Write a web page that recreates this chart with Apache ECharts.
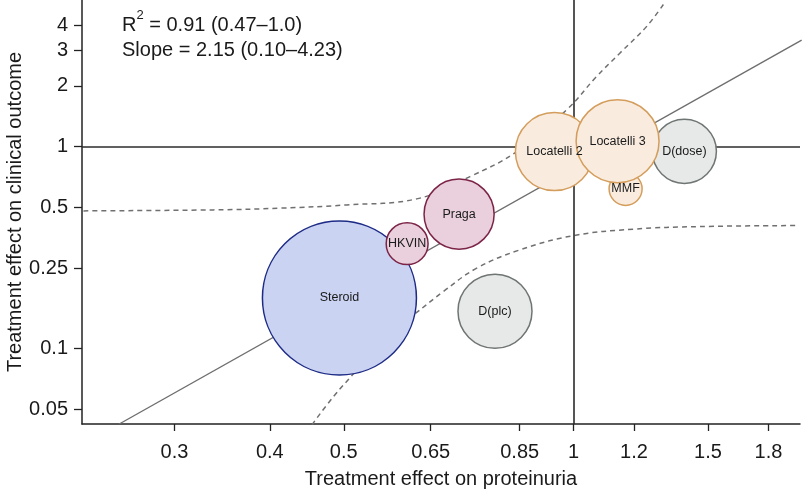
<!DOCTYPE html>
<html><head><meta charset="utf-8">
<script src="https://cdn.jsdelivr.net/npm/echarts@6/dist/echarts.min.js"></script>
<style>html,body{margin:0;padding:0;background:#fff}#c{width:802px;height:490px}</style>
</head><body><div id="c"></div>
<script>
// ---- data ----
const studies = ['Steroid', 'D(plc)', 'HKVIN', 'Praga', 'Locatelli 2', 'MMF', 'D(dose)', 'Locatelli 3'];
const effProteinuria = [0.4935, 0.789, 0.6053, 0.708, 0.944, 1.170, 1.397, 1.142];
const effClinical = [0.178, 0.153, 0.3306, 0.463, 0.945, 0.6175, 0.947, 1.0635];
const weights = [100, 23.1, 7.4, 20.7, 25.7, 4.6, 17.3, 29.0];
const groups = ['steroid', 'dapa', 'immuno', 'immuno', 'mmf', 'mmf', 'dapa', 'mmf'];

const fitX = [0.254, 1.99];
const fitY = [0.0423, 3.37];
const upperBandX = [0.228, 0.3374, 0.4129, 0.5047, 0.6232, 0.7318, 0.8423, 0.979, 1.0717, 1.1497, 1.246, 1.3165];
const upperBandY = [0.4805, 0.486, 0.4956, 0.5145, 0.551, 0.7104, 0.9446, 1.519, 2.221, 2.9, 3.927, 5.163];
const lowerBandX = [0.4542, 0.4848, 0.5202, 0.5636, 0.6169, 0.6752, 0.7466, 0.8507, 1.0, 1.1966, 1.463, 1.9575];
const lowerBandY = [0.0419, 0.0579, 0.0785, 0.1147, 0.1468, 0.1915, 0.250, 0.308, 0.3626, 0.390, 0.4018, 0.4064];

const xTicks = [0.3, 0.4, 0.5, 0.65, 0.85, 1, 1.2, 1.5, 1.8];
const yTicks = [0.05, 0.1, 0.25, 0.5, 1, 2, 3, 4];
const xRange = [0.227, 1.98];
const yRange = [0.0423, 5.32];

const statR2 = '0.91 (0.47\u20131.0)';
const statSlope = '2.15 (0.10\u20134.23)';

// ---- styles ----
const groupStyle = {
  steroid: { color: '#cbd3f2', borderColor: '#1d2b86' },
  immuno:  { color: '#e9d0dc', borderColor: '#7c2447' },
  mmf:     { color: '#f9ecdf', borderColor: '#d49d5c' },
  dapa:    { color: '#e6e9e7', borderColor: '#6f7572' }
};
const FONT = 'Liberation Sans, Arial, Helvetica, sans-serif';
const L = Math.log;
const toPts = (xs, ys) => xs.map((x, i) => [L(x), L(ys[i])]);
const fmt = ticks => v => {
  for (const t of ticks) if (Math.abs(L(t) - v) < 1e-6) return String(t);
  return '';
};
const maxDiam = 154;

const chart = echarts.init(document.getElementById('c'), null, { renderer: 'canvas' });
chart.setOption({
  animation: false,
  backgroundColor: '#fff',
  textStyle: { fontFamily: FONT },
  grid: { left: 82, right: 2, top: 0, bottom: 66, containLabel: false, outerBoundsMode: 'none' },
  xAxis: {
    type: 'value', min: L(xRange[0]), max: L(xRange[1]),
    name: 'Treatment effect on proteinuria', nameLocation: 'middle', nameGap: 45,
    nameTextStyle: { fontSize: 20, color: '#1a1a1a', fontFamily: FONT },
    axisLine: { show: true, onZero: false, lineStyle: { color: '#222', width: 1.5 } },
    axisTick: { show: true, length: 7, customValues: xTicks.map(L), lineStyle: { color: '#222', width: 1.3 } },
    axisLabel: { customValues: xTicks.map(L), formatter: fmt(xTicks), fontSize: 20, color: '#1a1a1a', margin: 18, fontFamily: FONT },
    splitLine: { show: false }
  },
  yAxis: {
    type: 'value', min: L(yRange[0]), max: L(yRange[1]),
    name: 'Treatment effect on clinical outcome', nameLocation: 'middle', nameGap: 57, nameMoveOverlap: false,
    nameTextStyle: { fontSize: 20, color: '#1a1a1a', fontFamily: FONT },
    axisLine: { show: true, onZero: false, lineStyle: { color: '#222', width: 1.5 } },
    axisTick: { show: true, length: 8, customValues: yTicks.map(L), lineStyle: { color: '#222', width: 1.3 } },
    axisLabel: { customValues: yTicks.map(L), formatter: fmt(yTicks), fontSize: 20, color: '#1a1a1a', margin: 14, fontFamily: FONT },
    splitLine: { show: false }
  },
  graphic: [
    { type: 'text', left: 122, top: 9, z: 100,
      style: { text: '{b|R}{s|2}{b| = ' + statR2 + '}', fill: '#1a1a1a',
        rich: { b: { fontSize: 20, fontFamily: FONT, lineHeight: 26, fill: '#1a1a1a', verticalAlign: 'bottom' },
                s: { fontSize: 13, fontFamily: FONT, lineHeight: 26, fill: '#1a1a1a', verticalAlign: 'top' } } } },
    { type: 'text', left: 122, top: 40, z: 100,
      style: { text: 'Slope = ' + statSlope, fontSize: 20, fontFamily: FONT, fill: '#1a1a1a' } }
  ],
  series: [
    { type: 'line', z: 1, data: toPts(fitX, fitY), symbol: 'none', silent: true,
      lineStyle: { color: '#6e6e6e', width: 1.4 },
      markLine: { silent: true, symbol: 'none', label: { show: false },
        lineStyle: { color: '#2b2b2b', width: 1.6, type: 'solid' },
        data: [{ xAxis: L(1) }, { yAxis: L(1) }] } },
    { type: 'line', z: 1, data: toPts(upperBandX, upperBandY), symbol: 'none', smooth: 0.4, silent: true,
      lineStyle: { color: '#707070', width: 1.5, type: [5, 4] } },
    { type: 'line', z: 1, data: toPts(lowerBandX, lowerBandY), symbol: 'none', smooth: 0.4, silent: true,
      lineStyle: { color: '#707070', width: 1.5, type: [5, 4] } },
    { type: 'scatter', z: 5, silent: true,
      data: studies.map((s, i) => ({
        name: s,
        value: [L(effProteinuria[i]), L(effClinical[i])],
        symbolSize: maxDiam * Math.sqrt(weights[i] / 100),
        itemStyle: { color: groupStyle[groups[i]].color, borderColor: groupStyle[groups[i]].borderColor, borderWidth: 1.5, opacity: 1 }
      })),
      itemStyle: { opacity: 1 },
      label: { show: true, position: 'inside', formatter: p => p.name, fontSize: 12.5, color: '#1a1a1a', fontFamily: FONT }
    }
  ]
});
</script>
</body></html>
